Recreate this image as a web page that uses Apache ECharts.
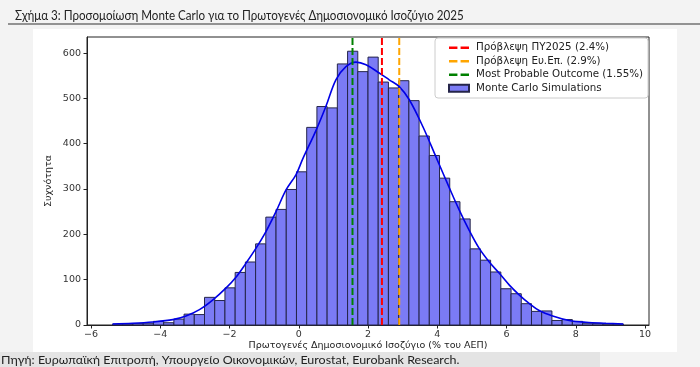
<!DOCTYPE html>
<html><head><meta charset="utf-8">
<script src="https://cdn.jsdelivr.net/npm/echarts@6/dist/echarts.min.js"></script>
<style>html,body{margin:0;padding:0;background:#f3f3f3;}#c{width:700px;height:367px;}</style>
</head><body><div id="c"></div>
<script>
const titleText = 'Σχήμα 3: Προσομοίωση Monte Carlo για το Πρωτογενές Δημοσιονομικό Ισοζύγιο 2025';
const sourceText = 'Πηγή: Ευρωπαϊκή Επιτροπή, Υπουργείο Οικονομικών, Eurostat, Eurobank Research.';
const xAxisTitle = 'Πρωτογενές Δημοσιονομικό Ισοζύγιο (% του ΑΕΠ)';
const yAxisTitle = 'Συχνότητα';
const xTicks = [-6, -4, -2, 0, 2, 4, 6, 8, 10];
const yTicks = [0, 100, 200, 300, 400, 500, 600];
const binStart = -5.38;
const binWidth = 0.2951;
const counts = [2,2,3,4,8,5,13,24,23,61,54,82,116,139,179,238,255,299,338,436,482,479,576,604,559,591,536,523,539,495,417,374,324,272,234,168,143,117,80,69,47,30,31,10,12,8,4,3,2,2];
const kdeX = [-5.38,-4.8,-4.22,-3.64,-3.26,-2.87,-2.49,-2.10,-1.81,-1.53,-1.24,-0.95,-0.66,-0.37,-0.08,0.11,0.50,0.78,1.07,1.36,1.65,1.94,2.32,2.61,2.90,3.19,3.58,3.96,4.35,4.63,4.92,5.21,5.50,5.79,6.08,6.37,6.66,6.94,7.33,7.81,8.29,8.87,9.37];
const kdeY = [2.3,3.8,6.7,11.9,20,34,55,82,106,136,169,206,250,298,332,366,430,482,541,570,580,574,556,541,526,497,438,371,302,254,209,169,139,114,88,66,47,32,20,10,6,3.8,2.3];
const refNames = ['Πρόβλεψη ΠΥ2025 (2.4%)', 'Πρόβλεψη Ευ.Επ. (2.9%)', 'Most Probable Outcome (1.55%)'];
const refValues = [2.4, 2.9, 1.55];
const refColors = ['#ff0000', '#ffa500', '#008000'];
const histName = 'Monte Carlo Simulations';
const xMin = -6.118, xMax = 10.113, yMax = 635.4;

const histData = counts.map((c, i) => [binStart + i * binWidth, binStart + (i + 1) * binWidth, c]);
const kdeData = kdeX.map((x, i) => [x, kdeY[i]]);
const axisFont = 'DejaVu Sans';
const dashIcon = 'path://M0,0h8v2.2h-8z M11,0h8v2.2h-8z';
const chart = echarts.init(document.getElementById('c'), null, {renderer: 'canvas'});

const refSeries = refValues.map((v, i) => ({
  name: refNames[i], type: 'line', symbol: 'none', z: 5,
  data: [[v, 0], [v, yMax]],
  lineStyle: {color: refColors[i], width: 2, type: [7, 3]},
  itemStyle: {color: refColors[i]}
}));

chart.setOption({
  animation: false,
  backgroundColor: '#f3f3f3',
  graphic: [
    {type: 'rect', shape: {x: 33, y: 29, width: 644, height: 323}, style: {fill: '#ffffff'}, z: -10},
    {type: 'rect', shape: {x: 0, y: 352, width: 600, height: 15}, style: {fill: '#e4e4e4'}, z: -10},
    {type: 'text', x: 15, y: 8, scaleX: 0.83, style: {text: titleText, font: '14px Lato', fill: '#222'}},
    {type: 'line', shape: {x1: 8, y1: 24, x2: 700, y2: 24}, style: {stroke: '#333', lineWidth: 1.2}},
    {type: 'text', x: 1, y: 354, scaleX: 1.04, style: {text: sourceText, font: '12px Lato', fill: '#222'}}
  ],
  grid: {left: 87, right: 51, top: 37, bottom: 42, show: true, borderColor: '#222', borderWidth: 1, backgroundColor: '#fff'},
  legend: {
    orient: 'vertical', left: 435, top: 38, itemGap: 0, itemWidth: 20, itemHeight: 7,
    backgroundColor: 'rgba(255,255,255,0.85)', borderColor: '#cccccc', borderWidth: 1, borderRadius: 3,
    padding: [3, 5, 3, 13],
    textStyle: {fontFamily: axisFont, fontSize: 10.3, color: '#222', lineHeight: 13.5, padding: [0, 0, 0, 2]},
    data: refNames.map(n => ({name: n, icon: dashIcon})).concat([{name: histName, icon: 'rect'}])
  },
  xAxis: {
    type: 'value', min: xMin, max: xMax,
    name: xAxisTitle, nameLocation: 'middle', nameGap: 16, nameMoveOverlap: false,
    nameTextStyle: {fontFamily: axisFont, fontSize: 9.5, color: '#222'},
    splitLine: {show: false},
    axisLine: {show: true, onZero: false, lineStyle: {color: '#222'}},
    axisTick: {show: true, length: 3.5, lineStyle: {color: '#222'}, customValues: xTicks},
    axisLabel: {customValues: xTicks, margin: 5, fontFamily: axisFont, fontSize: 9.5, color: '#333',
      formatter: v => String(v).replace('-', '\u2212')}
  },
  yAxis: {
    type: 'value', min: 0, max: yMax,
    name: yAxisTitle, nameLocation: 'middle', nameGap: 33, nameRotate: 90, nameMoveOverlap: false,
    nameTextStyle: {fontFamily: axisFont, fontSize: 9.5, color: '#222'},
    splitLine: {show: false},
    axisLine: {show: true, onZero: false, lineStyle: {color: '#222'}},
    axisTick: {show: true, length: 3.5, lineStyle: {color: '#222'}, customValues: yTicks},
    axisLabel: {customValues: yTicks, margin: 6, fontFamily: axisFont, fontSize: 9.5, color: '#333'}
  },
  series: [
    {
      name: histName, type: 'custom', z: 2,
      itemStyle: {color: '#7b7bf5', borderColor: '#25254a', borderWidth: 1},
      encode: {x: [0, 1], y: 2},
      data: histData,
      renderItem: function (params, api) {
        const p0 = api.coord([api.value(0), api.value(2)]);
        const p1 = api.coord([api.value(1), 0]);
        return {type: 'rect', shape: {x: p0[0], y: p0[1], width: p1[0] - p0[0], height: p1[1] - p0[1]},
          style: {fill: '#7b7bf5', stroke: '#25254a', lineWidth: 1}};
      }
    },
    {
      name: 'KDE', type: 'line', symbol: 'none', smooth: 0.35, z: 4,
      data: kdeData, lineStyle: {color: '#0000e6', width: 1.6}
    }
  ].concat(refSeries)
});
</script></body></html>
